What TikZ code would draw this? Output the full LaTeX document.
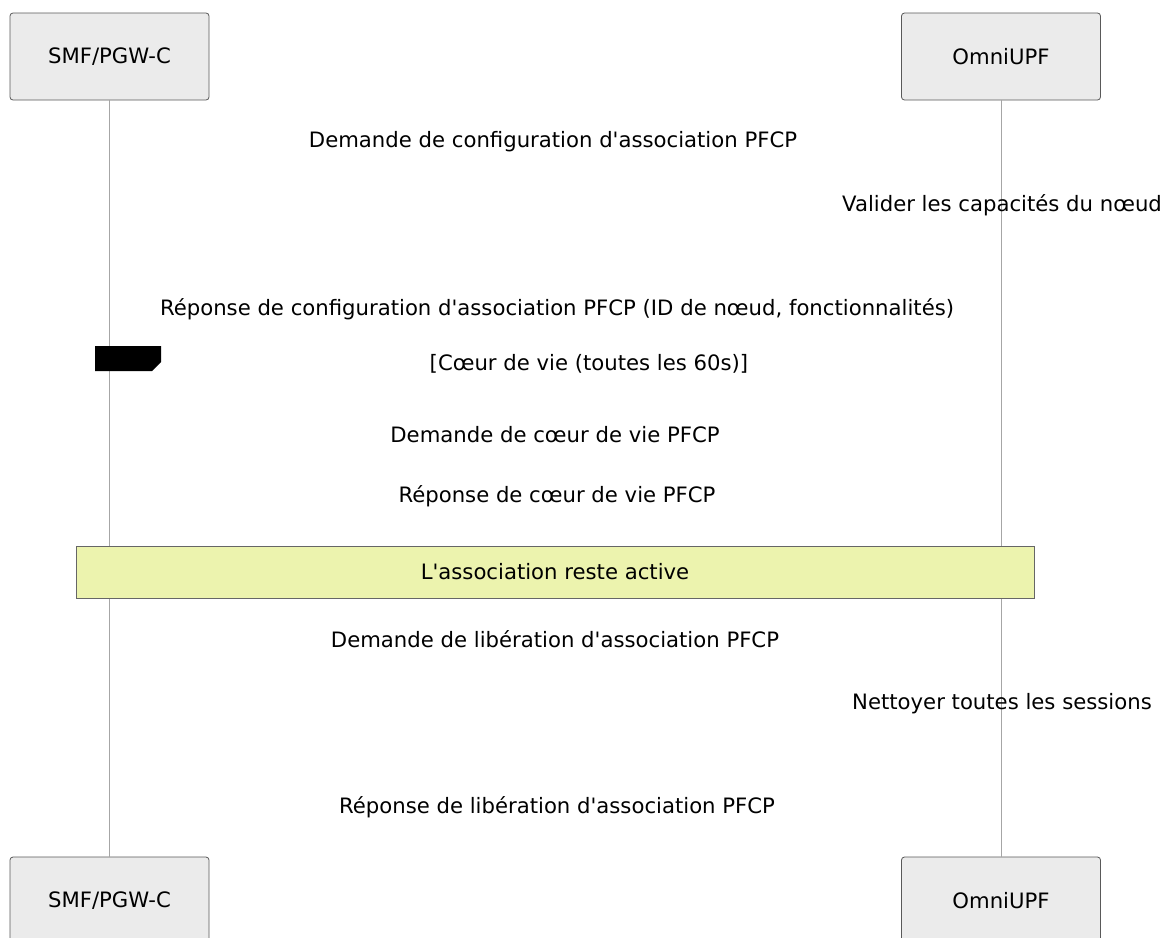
\documentclass[tikz,border=0pt]{standalone}
\usepackage{fontspec}
\setmainfont{DejaVu Sans}[Ligatures=TeXOff]
\begin{document}
\begin{tikzpicture}[x=1pt,y=-1pt,
  actor/.style={draw=black!65,line width=0.8pt,fill=black!8,rounded corners=3pt,minimum width=199pt,minimum height=87pt,inner sep=0pt,font=\fontsize{21.2pt}{25pt}\selectfont},
  msg/.style={font=\fontsize{21.2pt}{25pt}\selectfont,inner sep=0pt,anchor=center,yshift=-1.5pt},
  life/.style={draw=black!35,line width=0.8pt},
  notebox/.style={draw=black!60,line width=0.8pt,fill={rgb,255:red,236;green,243;blue,174},minimum width=958pt,minimum height=52pt,inner sep=0pt,font=\fontsize{21.2pt}{25pt}\selectfont}]
\useasboundingbox (0,0) rectangle (1164,937);
\begin{scope}
\clip (0,0) rectangle (1164,937);
\node[actor] (a1) at (109.5,56.5) {SMF/PGW-C};
\node[actor] (b1) at (1001,56.5) {OmniUPF};
\node[actor] (a2) at (109.5,900.5) {SMF/PGW-C};
\node[actor] (b2) at (1001,900.5) {OmniUPF};
\end{scope}
\draw[life] (a1.south) -- (a2.north);
\draw[life] (b1.south) -- (b2.north);
\node[msg] (m1) at (553,140) {Demande de configuration d'association PFCP};
\node[msg] (m2) at (1002,204) {Valider les capacités du nœud};
\node[msg] (m3) at (557,308) {Réponse de configuration d'association PFCP (ID de nœud, fonctionnalités)};
\fill[black] (95,346) -- (161,346) -- (161,362) -- (152,371) -- (95,371) -- cycle;
\node[msg] (loop) at (589,362) {[Cœur de vie (toutes les 60s)]};
\node[msg] (m4) at (555,433) {Demande de cœur de vie PFCP};
\node[msg] (m5) at (557,495) {Réponse de cœur de vie PFCP};
\node[notebox] (note) at (555,572) {L'association reste active};
\node[msg] (m6) at (555,638) {Demande de libération d'association PFCP};
\node[msg] (m7) at (1002,702) {Nettoyer toutes les sessions};
\node[msg] (m8) at (557,806) {Réponse de libération d'association PFCP};
\end{tikzpicture}
\end{document}
